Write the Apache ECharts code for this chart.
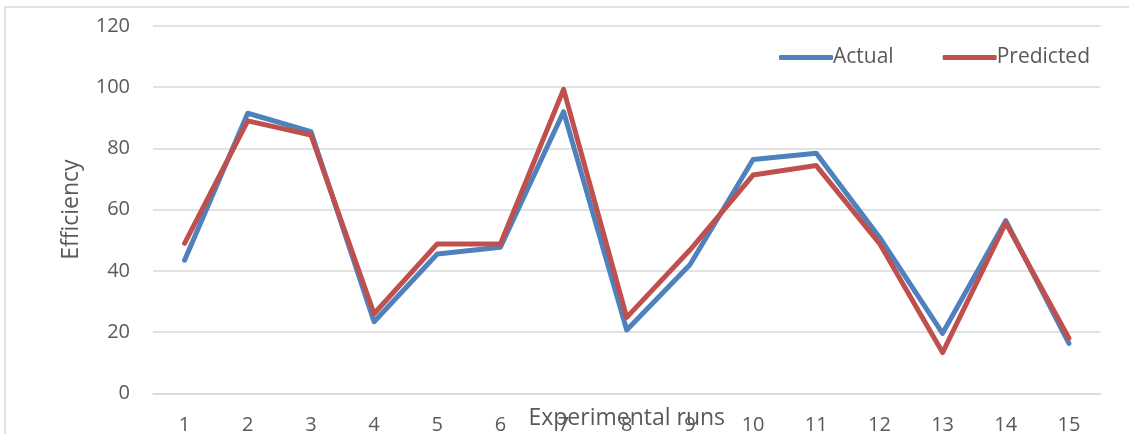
<!DOCTYPE html>
<html><head><meta charset="utf-8">
<script src="https://cdn.jsdelivr.net/npm/echarts@6/dist/echarts.min.js"></script>
<style>html,body{margin:0;padding:0;background:#fff}#c{width:1129px;height:434px}</style>
</head><body><div id="c"></div>
<script>
const categories = ['1','2','3','4','5','6','7','8','9','10','11','12','13','14','15'];
const actual    = [43.5, 91.5, 85.5, 23.4, 45.5, 47.7, 92.0, 20.7, 42.0, 76.4, 78.4, 51.0, 19.6, 56.4, 16.3];
const predicted = [49.0, 89.0, 84.4, 26.0, 48.8, 48.8, 99.3, 24.8, 46.8, 71.3, 74.4, 49.0, 13.3, 55.7, 18.0];
const yTicks = {min: 0, max: 120, interval: 20};

const chart = echarts.init(document.getElementById('c'), null, {renderer: 'canvas'});
const font = '"Open Sans", "Liberation Sans", sans-serif';
const txt = '#595959';
chart.setOption({
  animation: false,
  graphic: [{type: 'rect', shape: {x: 5, y: 7, width: 1140, height: 440}, style: {fill: 'none', stroke: '#d9d9d9', lineWidth: 1.5}, silent: true}],
  grid: {left: 153, right: 28.5, top: 26, bottom: 40.7, containLabel: false, outerBoundsMode: 'none'},
  legend: {
    left: 774, top: 42, itemWidth: 54, itemHeight: 5, itemGap: 49, icon: 'roundRect',
    textStyle: {color: txt, fontSize: 21, fontFamily: font, padding: [0, 0, 0, -5]},
    data: ['Actual', 'Predicted']
  },
  xAxis: {
    type: 'category', data: categories, boundaryGap: true,
    axisLine: {show: true, lineStyle: {color: '#d9d9d9', width: 1.5}},
    axisTick: {show: false},
    axisLabel: {color: txt, fontSize: 20, fontFamily: font, margin: 22},
    name: 'Experimental runs', nameLocation: 'middle', nameGap: 14, nameMoveOverlap: false,
    nameTextStyle: {color: txt, fontSize: 23, fontFamily: font}
  },
  yAxis: {
    type: 'value', min: yTicks.min, max: yTicks.max, interval: yTicks.interval,
    axisLine: {show: false}, axisTick: {show: false},
    splitLine: {lineStyle: {color: '#d9d9d9', width: 1.5}},
    axisLabel: {color: txt, fontSize: 20, fontFamily: font, margin: 23},
    name: 'Efficiency', nameLocation: 'middle', nameGap: 70, nameMoveOverlap: false,
    nameTextStyle: {color: txt, fontSize: 23, fontFamily: font}
  },
  series: [
    {name: 'Actual', type: 'line', data: actual, symbol: 'none', color: '#4F81BD',
     lineStyle: {width: 5, color: '#4F81BD', cap: 'round', join: 'round'}},
    {name: 'Predicted', type: 'line', data: predicted, symbol: 'none', color: '#C0504D',
     lineStyle: {width: 5, color: '#C0504D', cap: 'round', join: 'round'}}
  ]
});
</script></body></html>
